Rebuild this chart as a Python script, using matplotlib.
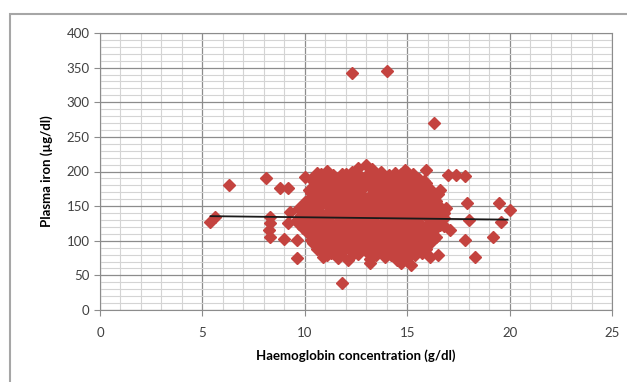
# Plasma iron vs haemoglobin scatter, Excel-style
import numpy as np
import matplotlib.pyplot as plt
from matplotlib.patches import Rectangle

plt.rcParams["font.family"] = ["Lato", "DejaVu Sans"]

# haemoglobin (g/dl) and plasma iron (ug/dl)
hb = [
    5.37, 5.62, 6.3, 8.1, 8.8, 9.2, 10.0, 8.3, 8.3, 8.25, 8.3, 9.0, 9.6, 9.2, 10.0, 9.3, 9.6,
    11.8, 12.3, 14.0, 16.3,
    17.0, 17.4, 17.8, 17.9, 18.0, 17.8, 18.3, 19.5, 20.0, 19.6, 19.2, 16.6, 16.5, 15.9, 17.1, 16.9,
    12.6, 13.0, 13.3,
    10.6, 11.1, 11.8, 12.3, 13.7, 14.4, 14.9, 15.3,
    10.8, 11.4, 12.0, 12.7, 13.4, 14.1, 14.7, 15.2,
    10.3, 10.8, 11.4, 12.0, 12.5, 13.0, 13.6, 14.1, 14.6, 15.0, 15.6,
    10.5, 11.1, 11.7, 12.3, 12.8, 13.3, 13.9, 14.4, 14.9, 15.3, 15.8,
    10.5, 11.0, 11.5, 12.1, 12.7, 13.2, 13.7, 14.3, 14.8, 15.4, 15.9,
    10.4, 11.0, 11.6, 12.1, 12.7, 13.2, 13.8, 14.3, 14.8, 15.3, 15.9,
    10.2, 10.7, 11.3, 11.8, 12.4, 12.9, 13.5, 14.0, 14.5, 15.1, 15.6, 16.1,
    10.3, 10.9, 11.5, 12.1, 12.7, 13.3, 13.8, 14.4, 14.9, 15.5, 16.0, 16.5,
    10.4, 10.9, 11.5, 12.0, 12.6, 13.1, 13.6, 14.2, 14.7, 15.2, 15.8, 16.3,
    10.2, 10.7, 11.3, 11.8, 12.4, 12.9, 13.5, 14.0, 14.6, 15.1, 15.6, 16.1,
    10.5, 11.0, 11.6, 12.1, 12.7, 13.2, 13.8, 14.3, 14.9, 15.4, 15.9, 16.4,
    10.0, 10.5, 11.1, 11.6, 12.2, 12.7, 13.2, 13.8, 14.3, 14.9, 15.4, 15.9, 16.5,
    9.7, 10.2, 10.7, 11.3, 11.8, 12.4, 12.9, 13.5, 14.0, 14.6, 15.1, 15.6, 16.2,
    10.1, 10.6, 11.2, 11.7, 12.3, 12.8, 13.4, 13.9, 14.5, 15.0, 15.6, 16.1, 16.6,
    9.8, 10.4, 10.9, 11.5, 12.0, 12.6, 13.1, 13.7, 14.2, 14.8, 15.3, 15.8, 16.4, 16.8,
    10.1, 10.7, 11.2, 11.8, 12.3, 12.9, 13.4, 14.0, 14.5, 15.1, 15.6, 16.2, 16.8,
    9.6, 10.1, 10.6, 11.2, 11.7, 12.3, 12.8, 13.4, 13.9, 14.5, 15.0, 15.5, 16.1, 16.6,
    9.7, 10.3, 10.8, 11.4, 11.9, 12.5, 13.0, 13.6, 14.1, 14.7, 15.2, 15.7, 16.2, 16.6,
    9.9, 10.4, 11.0, 11.5, 12.1, 12.6, 13.2, 13.7, 14.3, 14.8, 15.3, 15.9, 16.4, 16.8,
    10.2, 10.7, 11.3, 11.8, 12.4, 12.9, 13.5, 14.0, 14.6, 15.1, 15.7, 16.2,
    10.1, 10.7, 11.2, 11.8, 12.3, 12.9, 13.4, 14.0, 14.5, 15.1, 15.6, 16.2,
    10.4, 11.0, 11.5, 12.1, 12.6, 13.2, 13.7, 14.3, 14.8, 15.4, 15.9, 16.4,
    10.3, 10.9, 11.4, 12.0, 12.5, 13.1, 13.6, 14.2, 14.7, 15.2, 15.8, 16.3,
    10.4, 10.9, 11.4, 12.0, 12.5, 13.0, 13.6, 14.1, 14.7, 15.2, 15.8,
    10.6, 11.1, 11.6, 12.2, 12.7, 13.3, 13.8, 14.4, 14.9, 15.5, 16.0,
    10.6, 11.1, 11.6, 12.2, 12.7, 13.3, 13.8, 14.4, 14.9, 15.4, 15.9,
    10.8, 11.3, 11.9, 12.4, 13.0, 13.5, 14.1, 14.6, 15.1, 15.7,
    11.1, 11.7, 12.6, 13.5, 14.2, 14.8, 15.4,
    10.9, 11.6, 12.1, 13.2, 13.9, 14.5, 15.0, 16.1,
    13.2, 14.7, 15.2,
]
iron = [
    127, 134, 180, 191, 176, 176, 192, 135, 125, 115, 106, 102, 75, 125, 156, 142, 101,
    39, 342, 345, 270,
    195, 195, 194, 154, 130, 101, 77, 155, 144, 127, 105, 173, 79, 202, 115, 147,
    205, 210, 204,
    198, 201, 197, 200, 199, 198, 202, 197,
    196, 195, 197, 194, 196, 195, 197, 194,
    189, 193, 190, 192, 188, 193, 190, 192, 188, 191, 189,
    187, 186, 188, 185, 187, 186, 188, 185, 187, 186, 187,
    182, 185, 180, 184, 181, 185, 182, 180, 184, 181, 183,
    178, 177, 179, 176, 178, 177, 179, 176, 178, 177, 178,
    173, 176, 171, 175, 172, 177, 173, 175, 171, 176, 172, 175,
    169, 168, 170, 167, 169, 168, 170, 167, 169, 168, 170, 168,
    166, 163, 167, 164, 166, 162, 167, 164, 166, 163, 167, 164,
    160, 159, 161, 158, 160, 159, 161, 158, 160, 159, 161, 159,
    154, 158, 155, 157, 153, 158, 155, 157, 154, 158, 155, 157,
    151, 150, 152, 149, 151, 150, 152, 149, 151, 150, 152, 149, 151,
    148, 145, 149, 146, 148, 144, 149, 146, 148, 145, 149, 146, 148,
    142, 141, 143, 140, 142, 141, 143, 140, 142, 141, 143, 140, 142,
    137, 140, 136, 139, 137, 140, 136, 139, 137, 140, 136, 139, 137, 140,
    133, 132, 134, 131, 133, 132, 134, 131, 133, 132, 134, 131, 133,
    130, 127, 131, 128, 130, 127, 131, 128, 130, 127, 131, 128, 130, 127,
    124, 123, 125, 122, 124, 123, 125, 122, 124, 123, 125, 122, 124, 123,
    119, 122, 118, 121, 119, 122, 118, 121, 119, 122, 118, 121, 119, 122,
    115, 114, 116, 113, 115, 114, 116, 113, 115, 114, 116, 113,
    112, 109, 113, 110, 112, 109, 113, 110, 112, 109, 113, 110,
    106, 105, 107, 104, 106, 105, 107, 104, 106, 105, 107, 105,
    101, 104, 100, 103, 101, 104, 100, 103, 101, 104, 100, 103,
    97, 96, 98, 95, 97, 96, 98, 95, 97, 96, 97,
    94, 91, 95, 92, 94, 91, 95, 92, 94, 91, 94,
    88, 87, 89, 86, 88, 87, 89, 86, 88, 87, 88,
    85, 82, 86, 83, 85, 82, 86, 83, 85, 82,
    80, 79, 81, 79, 80, 79, 80,
    77, 75, 72, 74, 76, 72, 75, 77,
    68, 68, 65,
]

# linear trend line end points
trend_x = [5.4, 19.9]
trend_y = [135.5, 130.5]

fig = plt.figure(figsize=(6.27, 3.82), dpi=100)
fig.patches.append(Rectangle((10 / 627, -0.05), 1.0, 1 - 14 / 382 + 0.05,
                             transform=fig.transFigure, fill=False,
                             edgecolor="#a6a6a6", lw=1.5))
ax = fig.add_axes([100 / 627, 1 - 310 / 382, 512 / 627, 277 / 382])

ax.plot(hb, iron, ls="none", marker="D", ms=6.6, color="#c4433f", zorder=3)
ax.plot(trend_x, trend_y, color="#1a1a1a", lw=1.3, zorder=4)

ax.set_xlim(0, 25)
ax.set_ylim(0, 400)
ax.set_xticks(np.arange(0, 26, 5))
ax.set_yticks(np.arange(0, 401, 50))
ax.set_xticks(np.arange(0, 26, 1), minor=True)
ax.set_yticks(np.arange(0, 401, 10), minor=True)
ax.grid(which="major", color="#8c8c8c", lw=0.9)
ax.grid(which="minor", color="#d4d4d4", lw=0.8)
ax.set_axisbelow(True)
for s in ax.spines.values():
    s.set_color("#8c8c8c")
ax.tick_params(which="major", length=4, color="#8c8c8c", labelsize=9.5,
               labelcolor="#404040")
ax.tick_params(which="minor", length=0)
ax.tick_params(axis="x", pad=8)

ax.set_xlabel("Haemoglobin concentration (g/dl)", fontsize=9.5, fontweight="bold",
              labelpad=8)
ax.set_ylabel("Plasma iron (µg/dl)", fontsize=9.5, fontweight="bold", labelpad=10)

fig.savefig("out.png", dpi=100)
